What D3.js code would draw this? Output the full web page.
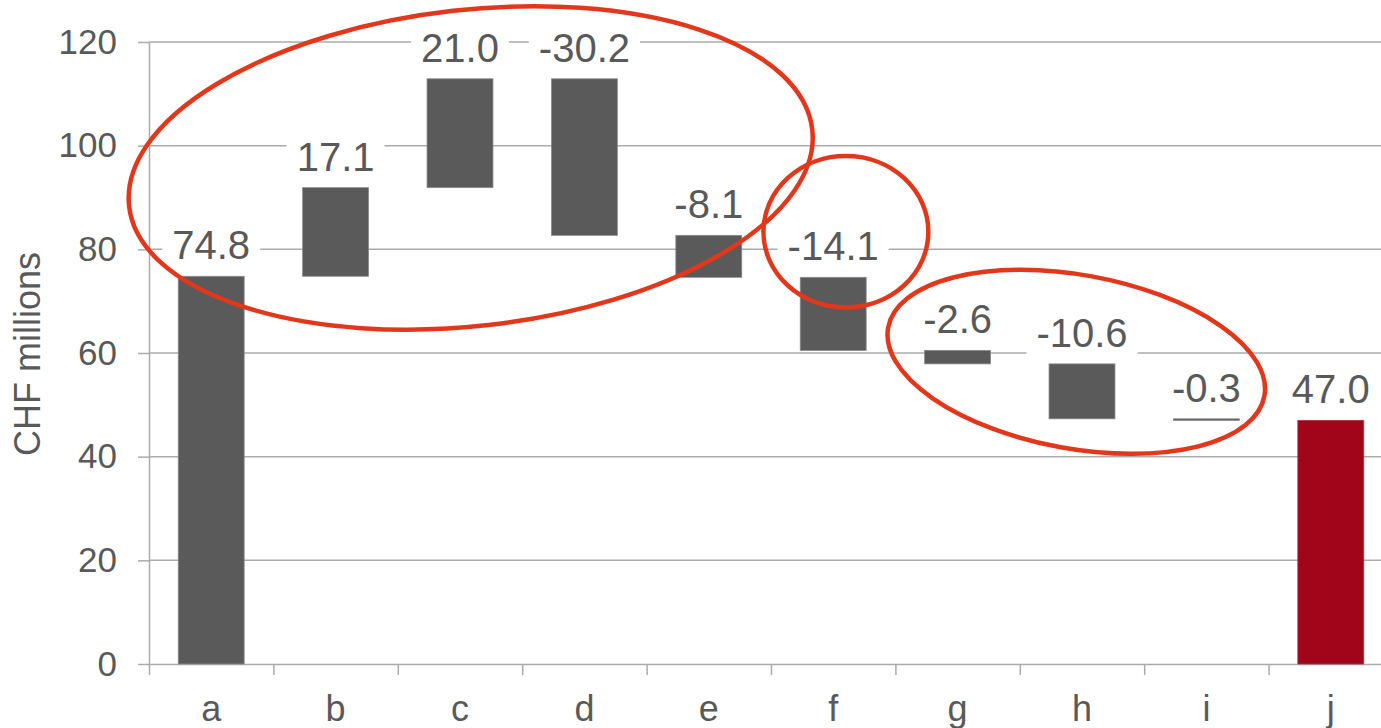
<!DOCTYPE html>
<html>
<head>
<meta charset="utf-8">
<script src="https://cdn.jsdelivr.net/npm/d3@7"></script>
<style>
  body { margin: 0; background: #fff; }
  #chart { width: 1381px; height: 728px; overflow: hidden; }
  text { font-family: "Liberation Sans", Arial, sans-serif; fill: #595959; }
</style>
</head>
<body>
<div id="chart"></div>
<script>
// data
var categories = ['a', 'b', 'c', 'd', 'e', 'f', 'g', 'h', 'i', 'j'];
var changes = [74.8, 17.1, 21.0, -30.2, -8.1, -14.1, -2.6, -10.6, -0.3, 47.0];
var isTotal = [false, false, false, false, false, false, false, false, false, true];
var yTicks = [0, 20, 40, 60, 80, 100, 120];

// red circles drawn over the chart (centre in category index / value units)
var circleCx = [2.586, 5.602, 7.454];
var circleCy = [95.7, 83.4, 58.3];
var circleRx = [2.763, 0.663, 1.537];
var circleRy = [30.5, 14.6, 16.75];
var circleTilt = [-6.4, 0, 10.3];

// running totals
var run = 0;
var data = categories.map(function (c, i) {
    var from, to;
    if (isTotal[i]) { from = 0; to = changes[i]; run = to; }
    else { from = run; to = run + changes[i]; run = to; }
    return { cat: c, value: changes[i], lo: Math.min(from, to), hi: Math.max(from, to), total: isTotal[i] };
});

var chartWidth = 1381, chartHeight = 728;
var plotLeft = 149, plotRight = 1393, plotTop = 42, plotBottom = 664;

var svg = d3.select('#chart')
    .append('svg')
        .attr('width', chartWidth)
        .attr('height', chartHeight);

var x = d3.scaleBand()
    .domain(categories)
    .range([plotLeft, plotRight])
    .paddingInner(0.47)
    .paddingOuter(0.235);

var pos = d3.scaleLinear()
    .domain([0, categories.length])
    .range([plotLeft, plotRight]);

var y = d3.scaleLinear()
    .domain([0, 120])
    .range([plotBottom, plotTop]);

// gridlines
svg.append('g')
    .selectAll('line')
    .data(yTicks.filter(function (d) { return d > 0; }))
    .enter().append('line')
        .attr('x1', plotLeft)
        .attr('x2', plotRight)
        .attr('y1', function (d) { return y(d); })
        .attr('y2', function (d) { return y(d); })
        .style('stroke', '#ababab')
        .style('stroke-width', 1.5);

// y axis
var yAxis = svg.append('g')
    .attr('transform', 'translate(' + plotLeft + ',0)')
    .call(d3.axisLeft(y).tickValues(yTicks).tickSize(11).tickSizeOuter(0).tickPadding(21));
yAxis.selectAll('path, line').style('stroke', '#ababab').style('stroke-width', 1.5);
yAxis.selectAll('text')
    .style('font-size', '35px')
    .style('fill', '#595959')
    .style('font-family', '"Liberation Sans", Arial, sans-serif');

// x axis (ticks between categories)
var xAxis = svg.append('g')
    .attr('transform', 'translate(0,' + plotBottom + ')')
    .call(d3.axisBottom(pos).tickValues(d3.range(categories.length + 1)).tickSize(11).tickSizeOuter(0).tickFormat(''));
xAxis.selectAll('path, line').style('stroke', '#ababab').style('stroke-width', 1.5);

svg.append('g')
    .selectAll('text')
    .data(categories)
    .enter().append('text')
        .attr('x', function (d) { return x(d) + x.bandwidth() / 2; })
        .attr('y', 721)
        .style('text-anchor', 'middle')
        .style('font-size', '36px')
        .text(function (d) { return d; });

// y title
svg.append('text')
    .attr('transform', 'translate(40,' + (y(60) + 1) + ') rotate(-90)')
    .style('text-anchor', 'middle')
    .style('font-size', '36px')
    .text('CHF millions');

// bars
svg.append('g')
    .selectAll('rect')
    .data(data)
    .enter().append('rect')
        .attr('x', function (d) { return x(d.cat); })
        .attr('width', x.bandwidth())
        .attr('y', function (d) { return y(d.hi); })
        .attr('height', function (d) { return Math.max(1.5, y(d.lo) - y(d.hi)); })
        .style('fill', function (d) { return d.total ? '#a0051a' : '#5a5a5a'; })
        .style('stroke', function (d) { return d.total ? '#b03040' : '#8a8a8a'; })
        .style('stroke-width', 0.8);

// value labels with white boxes
var labels = svg.append('g')
    .selectAll('g')
    .data(data)
    .enter().append('g');

labels.append('text')
    .attr('x', function (d) { return x(d.cat) + x.bandwidth() / 2; })
    .attr('y', function (d) { return y(d.hi) - 17; })
    .style('text-anchor', 'middle')
    .style('font-size', '40px')
    .text(function (d) { return d.value.toFixed(1); });

labels.each(function () {
    var g = d3.select(this);
    var b = g.select('text').node().getBBox();
    g.insert('rect', 'text')
        .attr('x', b.x - 10)
        .attr('y', b.y + 2)
        .attr('width', b.width + 20)
        .attr('height', b.height - 2)
        .style('fill', '#fff');
});

// annotation ellipses
svg.append('g')
    .selectAll('ellipse')
    .data(circleCx)
    .enter().append('ellipse')
        .attr('transform', function (d, i) {
            return 'translate(' + pos(d) + ',' + y(circleCy[i]) + ') rotate(' + circleTilt[i] + ')';
        })
        .attr('rx', function (d, i) { return pos(circleRx[i]) - pos(0); })
        .attr('ry', function (d, i) { return y(0) - y(circleRy[i]); })
        .style('fill', 'none')
        .style('stroke', '#e3371b')
        .style('stroke-width', 4.5);
</script>
</body>
</html>
